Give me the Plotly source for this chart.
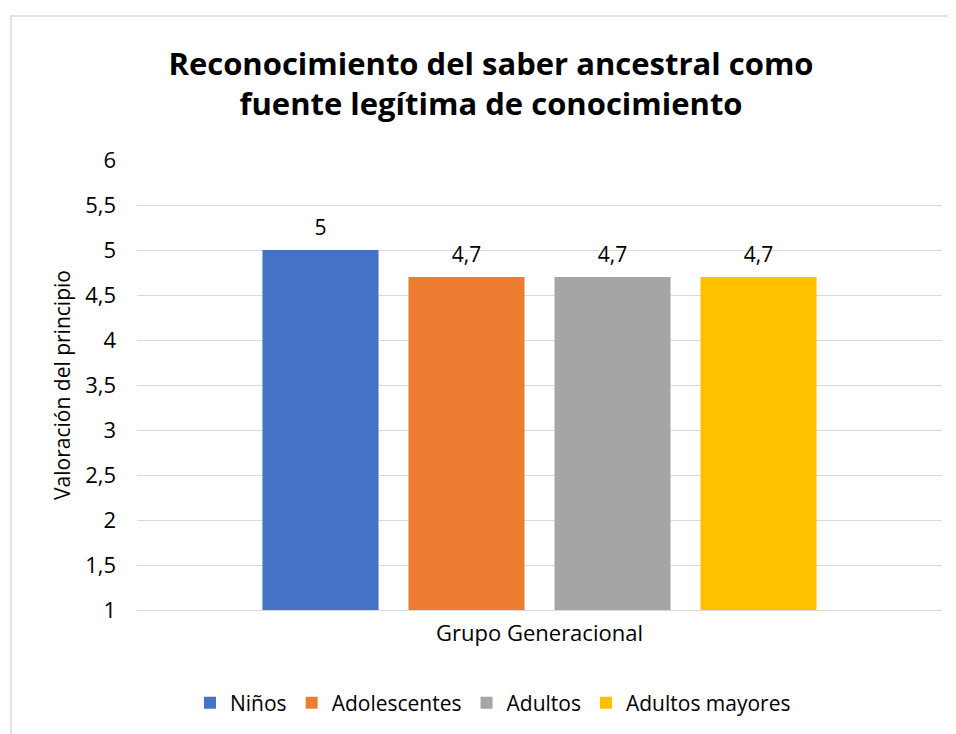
import plotly.graph_objects as go

categories = ["Grupo Generacional"]
series_names = ["Niños", "Adolescentes", "Adultos", "Adultos mayores"]
series_values = [5.0, 4.7, 4.7, 4.7]
colors = ["#4472C4", "#ED7D31", "#A5A5A5", "#FFC000"]

# the page body adds an 8px offset; the figure is sized to fill the rest of the window
OFF = 8
W, H = 956 - OFF, 734 - OFF
L, R, T, B = 137 - OFF, 14, 160 - OFF, 124
pw, ph = W - L - R, H - T - B

FONT = "Open Sans, Carlito, Calibri, sans-serif"
FS = 21
FT = 22
GAP = 0.2745

fig = go.Figure()
for i, (name, val, col) in enumerate(zip(series_names, series_values, colors)):
    fig.add_trace(go.Bar(
        x=categories, y=[val], name=name, marker=dict(color=col, line=dict(width=0)),
        offsetgroup=f"g{i}", alignmentgroup="a",
    ))
for i, (name, val) in enumerate(zip(series_names, series_values)):
    lbl = (f"{val:g}").replace(".", ",")
    fig.add_trace(go.Scatter(
        x=categories, y=[val], mode="markers+text", text=[lbl],
        textposition="top center", orientation="v",
        offsetgroup=f"g{i}", alignmentgroup="a",
        marker=dict(size=14, opacity=0), showlegend=False, hoverinfo="skip",
        textfont=dict(size=FS, color="#000000", family=FONT), cliponaxis=False,
    ))

fig.update_layout(
    width=W, height=H,
    margin=dict(l=L, r=R, t=T, b=B, autoexpand=False),
    paper_bgcolor="white", plot_bgcolor="white",
    separators=",.",
    barmode="group", bargap=GAP, bargroupgap=0.205,
    scattermode="group", scattergap=GAP,
    font=dict(family=FONT, size=FS, color="#000000"),
    title=dict(
        text="<b>Reconocimiento del saber ancestral como<br>fuente legítima de conocimiento</b>",
        x=(491 - OFF) / W, xanchor="center", xref="container",
        y=1 - (75 - OFF) / H, yanchor="middle", yref="container",
        font=dict(size=31, family=FONT, color="#000000"),
    ),
    xaxis=dict(
        showgrid=False, showline=True, linecolor="#D9D9D9", linewidth=1,
        ticks="", tickfont=dict(size=FT, family=FONT), ticklabelstandoff=4,
    ),
    yaxis=dict(
        range=[1, 6], dtick=0.5, tick0=1, showgrid=True, gridcolor="#D9D9D9", gridwidth=1,
        zeroline=False, showline=False, ticks="", ticklabelstandoff=20,
        tickfont=dict(size=FT, family=FONT),
        title=dict(text="Valoración del principio", font=dict(size=FS, family=FONT), standoff=8),
    ),
    legend=dict(
        orientation="h", x=(493 - OFF) / W, xanchor="center", xref="container",
        y=1 - (703 - OFF) / H, yanchor="middle", yref="container",
        font=dict(size=FS, family=FONT), itemsizing="constant",
        traceorder="normal", itemwidth=30,
    ),
    showlegend=True,
    shapes=[dict(
        type="rect", xref="paper", yref="paper",
        x0=(11 - OFF - L) / pw, x1=(W + 20 - L) / pw,
        y0=-(H + 20 - T - ph) / ph, y1=1 + (T - (16 - OFF)) / ph,
        line=dict(color="#D9D9D9", width=1.5), fillcolor="rgba(0,0,0,0)", layer="below",
    )],
)

fig.write_html("out.html")
